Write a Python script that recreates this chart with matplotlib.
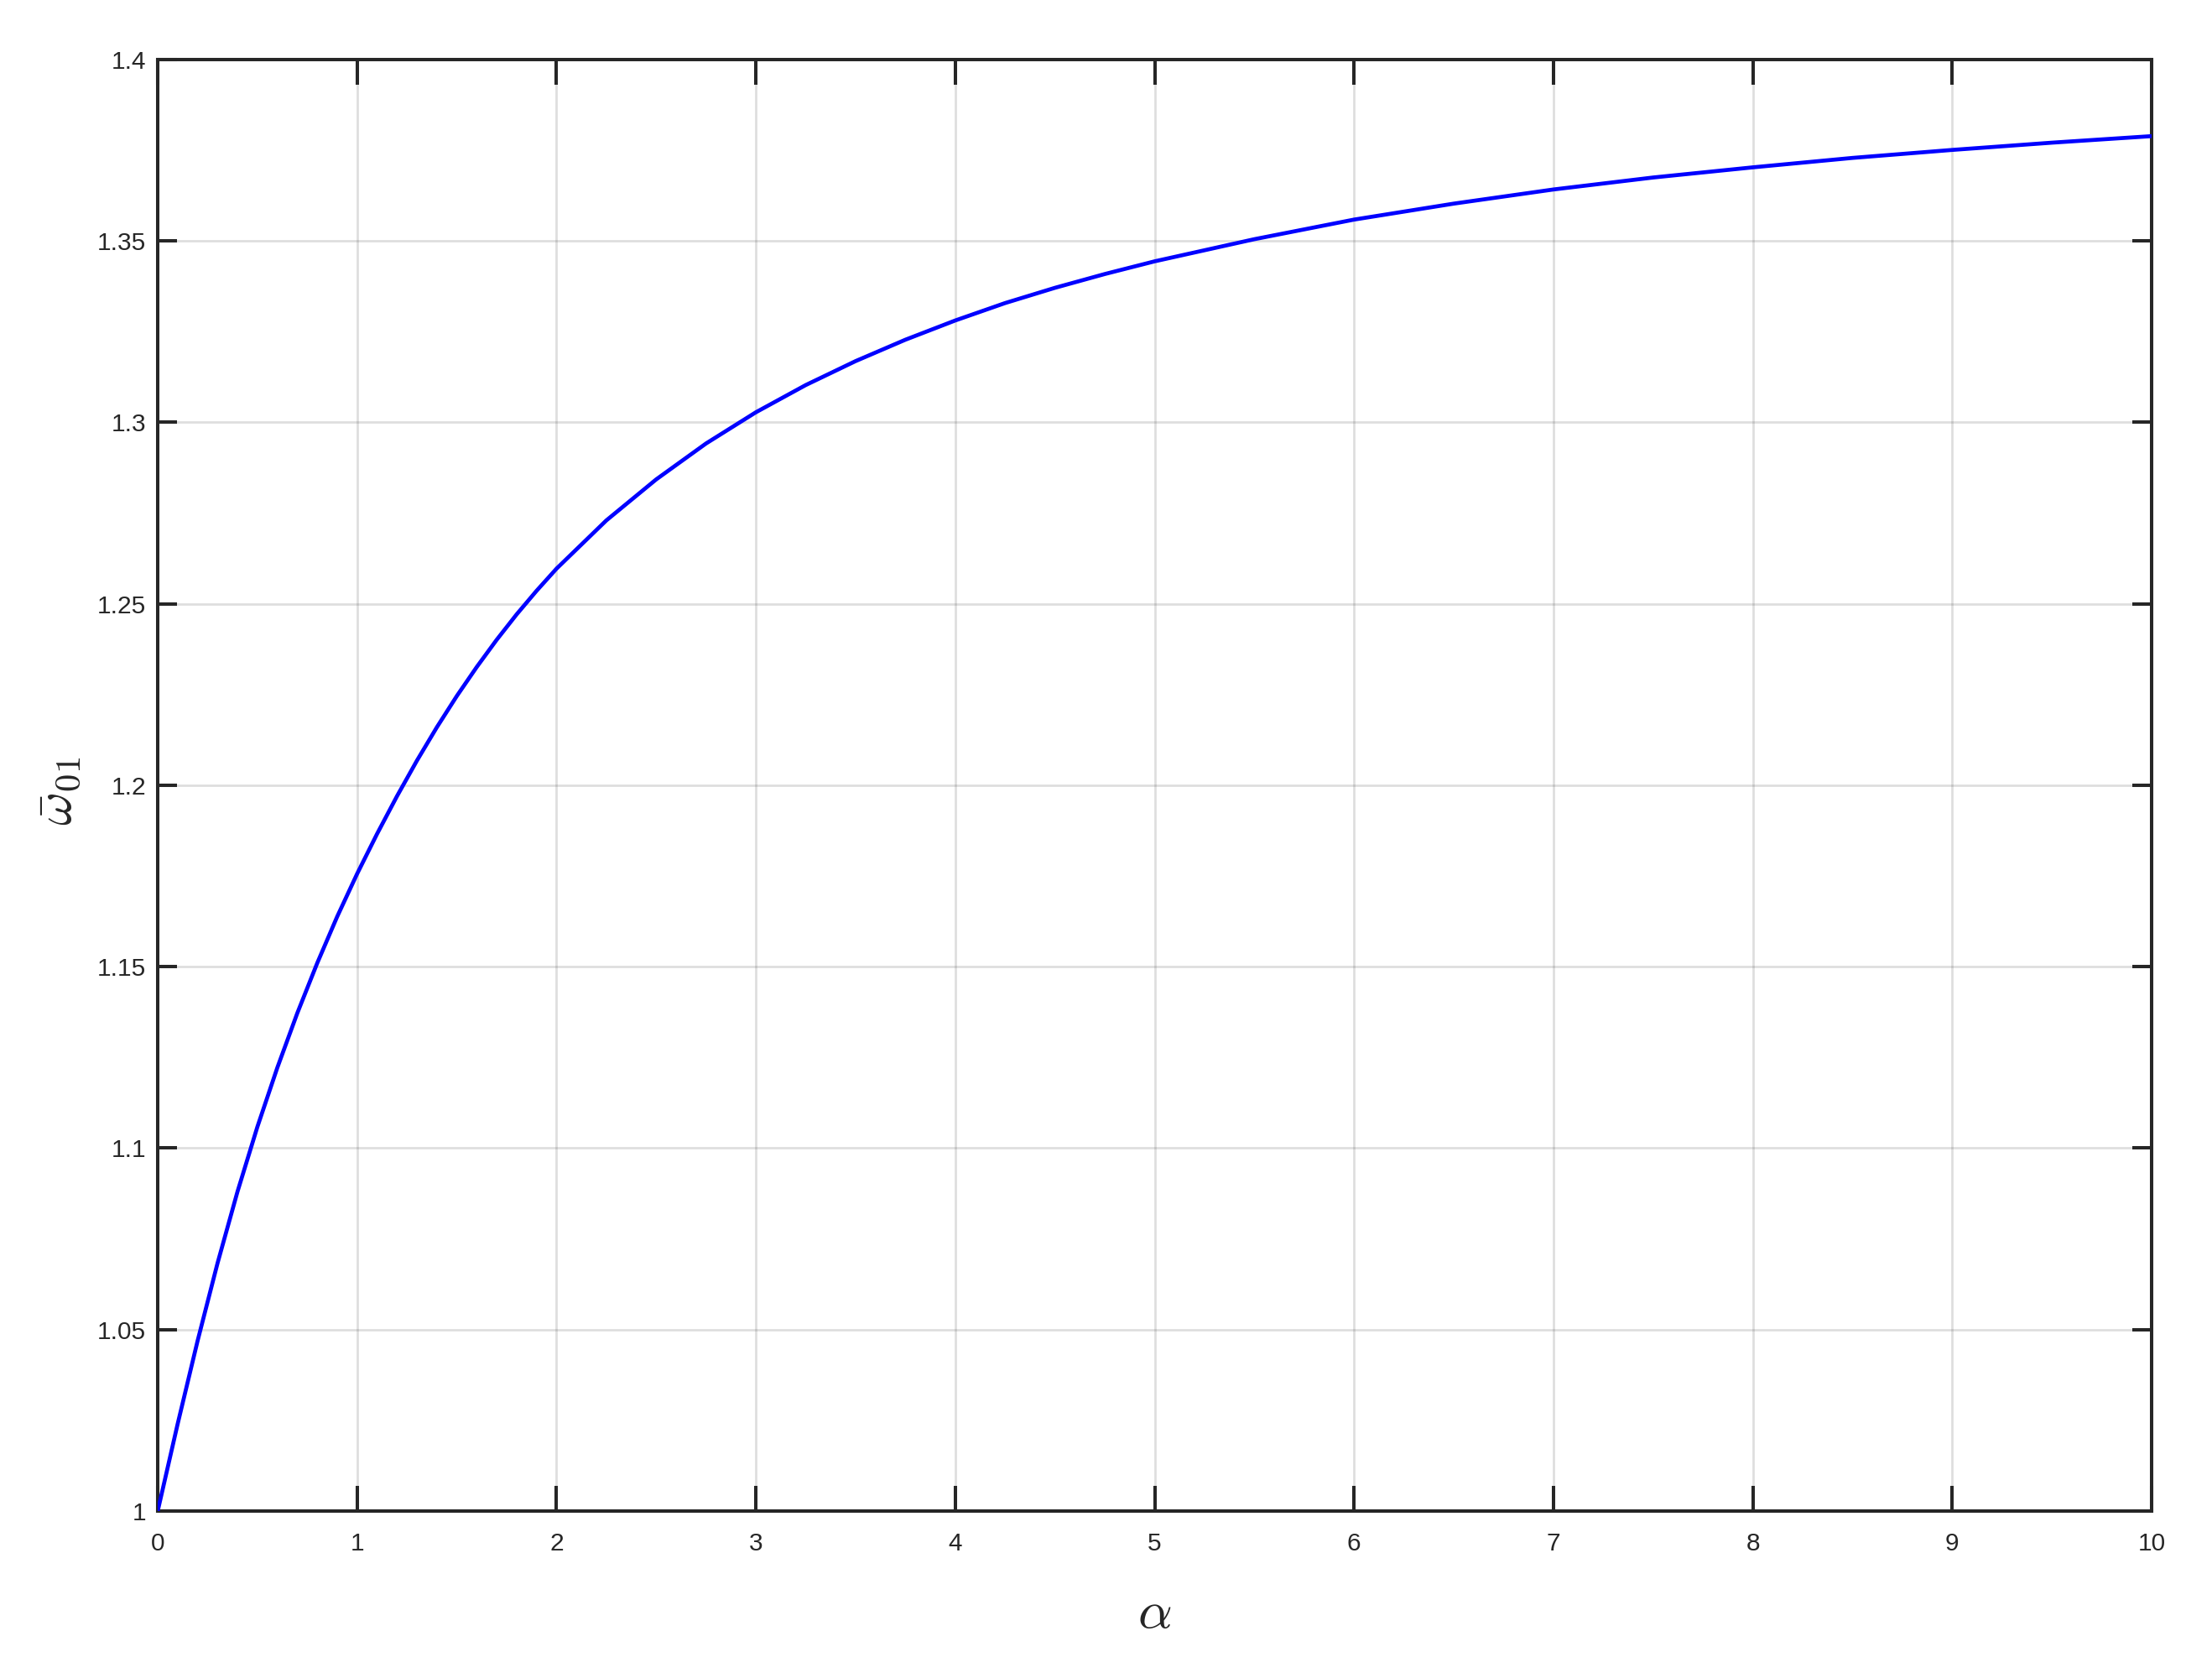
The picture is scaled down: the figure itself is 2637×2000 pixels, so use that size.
import matplotlib
matplotlib.use("Agg")
import matplotlib.pyplot as plt

# valeurs (alpha, omega_01 moyen)
alpha = [0.0, 0.1, 0.2, 0.3, 0.4, 0.5, 0.6, 0.7, 0.8, 0.9,
         1.0, 1.1, 1.2, 1.3, 1.4, 1.5, 1.6, 1.7, 1.8, 1.9,
         2.0, 2.25, 2.5, 2.75, 3.0, 3.25, 3.5, 3.75, 4.0, 4.25,
         4.5, 4.75, 5.0, 5.5, 6.0, 6.5, 7.0, 7.5, 8.0, 8.5,
         9.0, 9.5, 10.0]
omega01 = [1.0000, 1.0240, 1.0469, 1.0683, 1.0880, 1.1059, 1.1222, 1.1372, 1.1510, 1.1638,
           1.1756, 1.1866, 1.1970, 1.2068, 1.2160, 1.2246, 1.2326, 1.2401, 1.2471, 1.2536,
           1.2597, 1.2730, 1.2843, 1.2942, 1.3028, 1.3103, 1.3169, 1.3228, 1.3281, 1.3329,
           1.3371, 1.3409, 1.3444, 1.3505, 1.3559, 1.3603, 1.3642, 1.3675, 1.3703, 1.3729,
           1.3751, 1.3771, 1.3789]

xticks = list(range(0, 11))
yticks = [1.0, 1.05, 1.1, 1.15, 1.2, 1.25, 1.3, 1.35, 1.4]
ytick_labels = ["1", "1.05", "1.1", "1.15", "1.2", "1.25", "1.3", "1.35", "1.4"]

plt.rcParams["font.family"] = ["Liberation Sans Narrow", "Liberation Sans", "DejaVu Sans"]
plt.rcParams["mathtext.fontset"] = "cm"

AX_COLOR = "#262626"

fig = plt.figure(figsize=(26.37, 20.0), dpi=100)
ax = fig.add_axes([0.0713, 0.0995, 0.9014, 0.865])

ax.plot(alpha, omega01, color="#0000ff", linewidth=3.4, zorder=3,
        solid_joinstyle="round")

ax.set_xlim(0, 10)
ax.set_ylim(1.0, 1.4)
ax.set_xticks(xticks)
ax.set_xticklabels([str(t) for t in xticks])
ax.set_yticks(yticks)
ax.set_yticklabels(ytick_labels)

ax.grid(True, color="#262626", alpha=0.15, linewidth=2.0)
ax.set_axisbelow(True)

for sp in ax.spines.values():
    sp.set_linewidth(2.9)
    sp.set_color(AX_COLOR)

ax.tick_params(axis="both", which="major", direction="in", top=True, right=True,
               width=2.9, color=AX_COLOR, labelcolor=AX_COLOR, labelsize=21.5)
ax.tick_params(axis="x", length=21.6, pad=18)
ax.tick_params(axis="y", length=16.5, pad=10)

ax.set_xlabel(r"$\alpha$", fontsize=46, color=AX_COLOR)
ax.set_ylabel(r"$\bar{\omega}_{01}$", fontsize=44, color=AX_COLOR)
ax.xaxis.set_label_coords(0.5, -0.0705)
ax.xaxis.label.set_va("center")
ax.yaxis.set_label_coords(-0.0496, 0.496)
ax.yaxis.label.set_va("center")

fig.savefig("out.png", dpi=100)
